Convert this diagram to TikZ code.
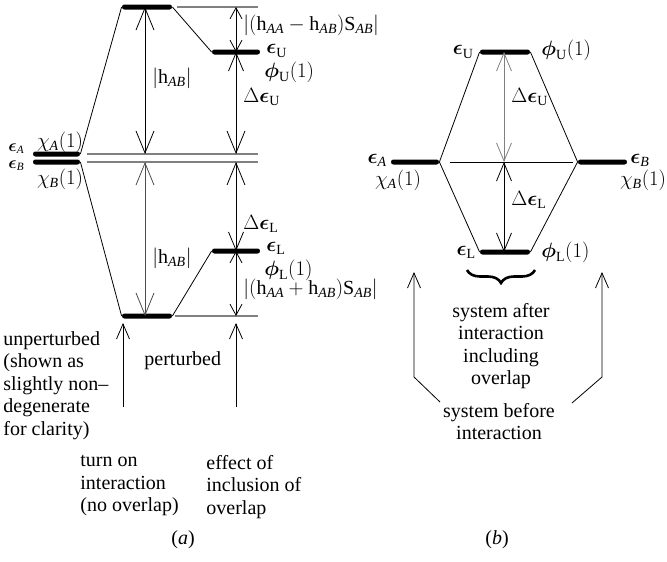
\documentclass[tikz,border=0pt]{standalone}
\usepackage{amsmath, amssymb}
\usepackage{fontspec}
\setmainfont{Liberation Serif}
\usepackage{tikz}
\usetikzlibrary{arrows.meta, decorations.pathreplacing}

\newcommand{\bEps}{\boldsymbol{\epsilon}}
\newcommand{\bPhi}{\boldsymbol{\phi}}

\tikzset{
    lvl/.style={fill=black, inner sep=0pt, minimum height=5pt, rounded corners=2.4pt},
    lab/.style={inner sep=0pt},
    guide/.style={gray, line width=1.2pt},
    bigbarb/.tip={Straight Barb[length=22pt, width=18pt]},
    midbarb/.tip={Straight Barb[length=18pt, width=15pt]},
    smallbarb/.tip={Straight Barb[length=11pt, width=12pt]},
    upbarb/.tip={Straight Barb[length=15pt, width=13pt]},
}

\begin{document}
\begin{tikzpicture}[x=1pt, y=-1pt, line width=0.8pt, font=\fontsize{20}{22.5}\selectfont]
\useasboundingbox (0,0) rectangle (667,562);

% ── (a): levels ──────────────────────────────────────────────────
\node[lvl, minimum width=50pt] (pU) at (147,7) {};
\node[lvl, minimum width=47pt] (uA) at (56.5,154) {};
\node[lvl, minimum width=47pt] (uB) at (56.5,162) {};
\node[lvl, minimum width=50pt] (pL) at (147,316) {};
\node[lvl, minimum width=48pt] (oU) at (236,52) {};
\node[lvl, minimum width=48pt] (oL) at (236,251) {};

\draw (pU.west) -- (uA.east);
\draw (uB.east) -- (pL.west);
\draw (pU.east) -- (oU.west);
\draw (pL.east) -- (oL.west);

% guide lines
\draw[guide] (177,7) -- (258,7);
\draw[guide] (87,154) -- (258,154);
\draw[guide] (87,162) -- (258,162);
\draw[guide] (175,316) -- (258,316);

% energy gaps
\coordinate (hU) at (145,7);
\coordinate (hA) at (145,154);
\coordinate (hB) at (145,162);
\coordinate (hL) at (145,316);
\coordinate (rT) at (236,7);
\coordinate (rA) at (236,154);
\coordinate (rB) at (236,162);
\coordinate (rL) at (236,316);
\draw[bigbarb-bigbarb] (hU) -- (hA);
\draw[bigbarb-bigbarb, gray!60!black] (hB) -- (hL);
\draw[smallbarb-smallbarb] (rT) -- (oU.center);
\draw[midbarb-bigbarb] (oU.center) -- (rA);
\draw[bigbarb-midbarb] (rB) -- (oL.center);
\draw[smallbarb-smallbarb] (oL.center) -- (rL);

% labels
\node[lab, anchor=west, font=\fontsize{16}{19}\selectfont] (lA) at (8,148.5) {$\bEps_{\textit{A}}$};
\node[lab, anchor=west, font=\fontsize{16}{19}\selectfont] (lB) at (8,165.5) {$\bEps_{\textit{B}}$};
\node[lab] (cA) at (60,142) {$\chi_{\textit{A}}(1)$};
\node[lab] (cB) at (60,179) {$\chi_{\textit{B}}(1)$};
\node[lab, anchor=west] (hab1) at (152,78) {$|\mathrm{h}_{\textit{AB}}|$};
\node[lab, anchor=west] (hab2) at (152,258) {$|\mathrm{h}_{\textit{AB}}|$};
\node[lab, anchor=west] (sU) at (243,25)
    {$|(\mathrm{h}_{\textit{AA}} - \mathrm{h}_{\textit{AB}})\mathrm{S}_{\textit{AB}}|$};
\node[lab, anchor=west] (eU) at (266,51) {$\bEps_{\mathrm{U}}$};
\node[lab, anchor=west] (fU) at (264,72) {$\bPhi_{\mathrm{U}}(1)$};
\node[lab, anchor=west] (dU) at (243,97) {$\Delta\bEps_{\mathrm{U}}$};
\node[lab, anchor=west] (dL) at (243,224) {$\Delta\bEps_{\mathrm{L}}$};
\node[lab, anchor=west] (eL) at (266,248.5) {$\bEps_{\mathrm{L}}$};
\node[lab, anchor=west] (fL) at (264,270) {$\bPhi_{\mathrm{L}}(1)$};
\node[lab, anchor=west] (sL) at (243,289)
    {$|(\mathrm{h}_{\textit{AA}} + \mathrm{h}_{\textit{AB}})\mathrm{S}_{\textit{AB}}|$};

% captions
\coordinate (q1) at (123,407);
\coordinate (q2) at (123,323);
\coordinate (q3) at (236,407);
\coordinate (q4) at (236,323);
\draw[-upbarb] (q1) -- (q2);
\draw[-upbarb] (q3) -- (q4);
\node[lab, anchor=north west, align=left] (unpert) at (3,331)
    {unperturbed\\(shown as\\slightly non--\\degenerate\\for clarity)};
\node[lab, anchor=base west] (pert) at (144,365) {perturbed};
\node[lab, anchor=north west, align=left] (turnon) at (80,455)
    {turn on\\interaction\\(no overlap)};
\node[lab, anchor=north west, align=left] (effect) at (206,455)
    {effect of\\inclusion of\\overlap};
\node[lab] (capA) at (183,540) {(\textit{a})};

% ── (b): with overlap ────────────────────────────────────────────
\node[lvl, minimum width=50pt] (bU) at (505,52) {};
\node[lvl, minimum width=48pt] (bA) at (415,162) {};
\node[lvl, minimum width=49pt] (bB) at (602.5,162) {};
\node[lvl, minimum width=50pt] (bL) at (505,252) {};

\draw (bA.east) -- (bU.west);
\draw (bU.east) -- (bB.west);
\draw (bA.east) -- (bL.west);
\draw (bL.east) -- (bB.west);

\coordinate (mid) at (504,162);
\draw (450,162) -- (573,162);
\draw[midbarb-midbarb, gray] (mid) -- (bU.center -| mid);
\draw[midbarb-midbarb] (mid) -- (bL.center -| mid);

\node[lab, anchor=east] (beU) at (474,52) {$\bEps_{\mathrm{U}}$};
\node[lab, anchor=west] (bfU) at (541,50) {$\bPhi_{\mathrm{U}}(1)$};
\node[lab, anchor=east] (beA) at (387,160) {$\bEps_{\textit{A}}$};
\node[lab] (bcA) at (398,180) {$\chi_{\textit{A}}(1)$};
\node[lab, anchor=west] (beB) at (630,160) {$\bEps_{\textit{B}}$};
\node[lab] (bcB) at (643,180) {$\chi_{\textit{B}}(1)$};
\node[lab, anchor=west] (bdU) at (511,97) {$\Delta\bEps_{\mathrm{U}}$};
\node[lab, anchor=west] (bdL) at (511,200) {$\Delta\bEps_{\mathrm{L}}$};
\node[lab, anchor=east] (beL) at (476,252) {$\bEps_{\mathrm{L}}$};
\node[lab, anchor=west] (bfL) at (541,252) {$\bPhi_{\mathrm{L}}(1)$};

% brace and captions
\draw[decorate, decoration={brace, mirror, amplitude=13pt}, line width=2.6pt]
    (467,270) -- (535,270);
\node[lab, anchor=north, align=center] (after) at (501,303)
    {system after\\interaction\\including\\overlap};
\node[lab, anchor=north, align=center] (before) at (499,403)
    {system before\\interaction};
\coordinate (wL0) at (440,402);
\coordinate (wL1) at (414,377);
\coordinate (wL2) at (414,272);
\coordinate (wR0) at (572,403);
\coordinate (wR1) at (602,377);
\coordinate (wR2) at (602,272);
\draw[-upbarb] (wL0) -- (wL1) -- (wL2);
\draw[-upbarb] (wR0) -- (wR1) -- (wR2);
\node[lab] (capB) at (497,540) {(\textit{b})};

\end{tikzpicture}
\end{document}
